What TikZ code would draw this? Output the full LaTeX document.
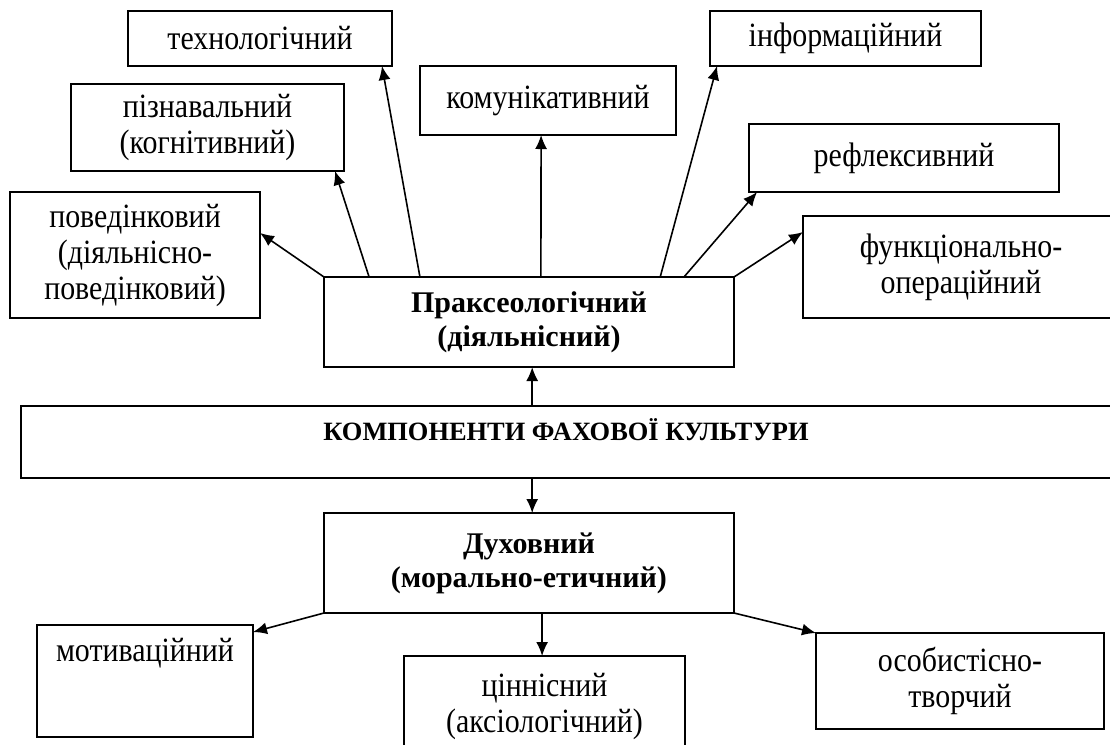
\documentclass[tikz,border=0pt]{standalone}
\usepackage{fontspec}
\setmainfont{Liberation Serif}
\newfontfamily\narrowserif{Liberation Serif}[FakeStretch=0.88]
\usetikzlibrary{arrows.meta, calc}

\tikzset{
  comp/.style={draw, rectangle, line width=0.8pt, align=center, inner sep=0pt,
               outer sep=0pt, font=\narrowserif\fontsize{17}{18}\selectfont},
  mainbox/.style={comp, font=\fontsize{15}{17}\selectfont\bfseries},
  arr/.style={-{Latex[length=7pt,width=6pt]}, line width=0.8pt}
}

\begin{document}
\begin{tikzpicture}[x=0.5pt, y=-0.5pt]
    \useasboundingbox (0,0) rectangle (1110,745);
    \clip (0,0) rectangle (1110,745);

    % Central blocks
    \node[mainbox, minimum width=205pt, minimum height=45pt] (prax) at (529,322)
        {Праксеологічний\\(діяльнісний)};
    \node[mainbox, minimum width=545pt, minimum height=36pt,
          font=\fontsize{13.2}{15}\selectfont\bfseries,
          text height=10pt, text depth=12pt] (komp) at (566,442)
        {КОМПОНЕНТИ ФАХОВОЇ КУЛЬТУРИ};
    \node[mainbox, minimum width=205pt, minimum height=50pt] (duh) at (529,563)
        {Духовний\\(морально-етичний)};

    % Praxeological components
    \node[comp, minimum width=125pt, minimum height=63pt] (pov) at (135,255)
        {поведінковий\\(діяльнісно-\\поведінковий)};
    \node[comp, minimum width=136.5pt, minimum height=43.5pt] (pizn) at (207.5,127.5)
        {пізнавальний\\(когнітивний)};
    \node[comp, minimum width=132pt, minimum height=27.5pt] (tech) at (260,38.5)
        {технологічний};
    \node[comp, minimum width=128pt, minimum height=34.5pt] (komun) at (548,100.5)
        {комунікативний};
    \node[comp, minimum width=135.5pt, minimum height=27.5pt] (inform) at (845.5,38.5)
        {інформаційний};
    \node[comp, minimum width=155pt, minimum height=34pt] (refl) at (904,158)
        {рефлексивний};
    \node[comp, minimum width=158pt, minimum height=51pt] (func) at (961,267)
        {функціонально-\\операційний};

    % Spiritual components
    \node[comp, minimum width=108pt, minimum height=56pt,
          text height=10pt, text depth=30pt] (motiv) at (145,681)
        {мотиваційний};
    \node[comp, minimum width=140.5pt, minimum height=50pt] (cinn) at (544.5,706)
        {ціннісний\\(аксіологічний)};
    \node[comp, minimum width=144pt, minimum height=48pt] (osob) at (960,681)
        {особистісно-\\творчий};

    % Arrows from the praxeological block
    \draw[arr] (prax.north west) -- ($(pov.north east)!0.325!(pov.south east)$);
    \foreach \a/\n/\b in {0.11/pizn/0.967, 0.234/tech/0.962, 0.529/komun/0.473,
                          0.82/inform/0.026, 0.878/refl/0.026}
        \draw[arr] ($(prax.north west)!\a!(prax.north east)$)
            -- ($(\n.south west)!\b!(\n.south east)$);
    \draw[arr] (prax.north east) -- ($(func.north west)!0.157!(func.south west)$);

    % Centre links
    \coordinate (up) at ($(komp.north west)!0.469!(komp.north east)$);
    \coordinate (down) at ($(komp.south west)!0.469!(komp.south east)$);
    \draw[arr] (up) -- (up |- prax.south);
    \draw[arr] (down) -- (down |- duh.north);

    % Arrows from the spiritual block
    \coordinate (cv) at ($(duh.south west)!0.532!(duh.south east)$);
    \draw[arr] (duh.south west) -- ($(motiv.north east)!0.063!(motiv.south east)$);
    \draw[arr] (cv) -- (cv |- cinn.north);
    \draw[arr] (duh.south east) -- (osob.north west);
\end{tikzpicture}
\end{document}
